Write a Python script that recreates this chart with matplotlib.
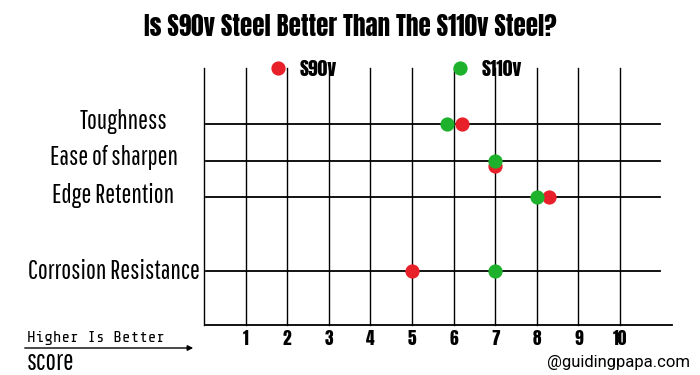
import matplotlib
matplotlib.use('Agg')
import matplotlib.pyplot as plt

# data
features = ['Toughness', 'Ease of sharpen', 'Edge Retention', 'Corrosion Resistance']
rows = [0, 1, 2, 4]
s90v = [6.2, 7.0, 8.3, 5.0]
s110v = [5.83, 7.0, 8.0, 7.0]
ticks = [1, 2, 3, 4, 5, 6, 7, 8, 9, 10]

red = '#e8202a'
green = '#1eb12c'
head = ['Anton', 'DejaVu Sans']
thin = ['Pathway Gothic One', 'DejaVu Sans']

fig = plt.figure(figsize=(7, 3.75), dpi=100)
ax = fig.add_axes([0, 0, 1, 1])
# px -> data: value 0 at x=204, 41.6 px per unit; row 0 at y=124, 36.7 px per unit
ax.set_xlim(-204 / 41.6, (700 - 204) / 41.6)
ax.set_ylim((375 - 124) / 36.7, -124 / 36.7)
ax.axis('off')

# grid
for t in [0] + ticks:
    ax.plot([t, t], [-1.53, 5.48], color='black', lw=1.0, zorder=1)
for r in rows:
    ax.plot([0.05, 10.95], [r, r], color='black', lw=1.3, zorder=1)
ax.plot([0.05, 11.25], [5.48, 5.48], color='black', lw=1.3, zorder=1)

# points
red_off = [0, 0.15, 0, 0]
ax.scatter(s90v, [r + o for r, o in zip(rows, red_off)], s=105, color=red, zorder=3, linewidths=0)
ax.scatter(s110v, rows, s=105, color=green, zorder=4, linewidths=0)

# legend
ax.scatter([1.78], [-1.53], s=105, color=red, zorder=3, linewidths=0)
ax.text(2.31, -1.5, 'S90v', fontsize=14, family=head, va='center', ha='left')
ax.scatter([6.15], [-1.53], s=105, color=green, zorder=3, linewidths=0)
ax.text(6.68, -1.5, 'S110v', fontsize=14, family=head, va='center', ha='left')

# row labels
label_x = [-1.935, -2.175, -2.175, -2.175]
label_dy = [0.14, 0.12, 0.15, 0.22]
for name, r, lx, dy in zip(features, rows, label_x, label_dy):
    ax.text(lx, r + dy, name, fontsize=19, family=thin, ha='center', va='baseline')

# tick labels
for t in ticks:
    ax.text(t, 5.85, str(t), fontsize=12.5, family=head, ha='center', va='center')

fig.text(0.5, 1 - 27 / 375, 'Is S90v Steel Better Than The S110v Steel?', fontsize=18,
         family=head, ha='center', va='center')

fig.text(27 / 700, 1 - 338 / 375, 'Higher Is Better', fontsize=11.5,
         family=['Share Tech Mono', 'DejaVu Sans Mono'], ha='left', va='center')
fig.text(27 / 700, 1 - 362 / 375, 'score', fontsize=20, family=thin, ha='left', va='center')
ax.annotate('', xy=(196 / 700, 1 - 348 / 375), xytext=(22 / 700, 1 - 348 / 375),
            xycoords='figure fraction', textcoords='figure fraction',
            arrowprops=dict(arrowstyle='-|>', color='black', lw=1, mutation_scale=8))
fig.text(690 / 700, 1 - 362 / 375, '@guidingpapa.com', fontsize=12,
         family=['Roboto', 'DejaVu Sans'], ha='right', va='center')

fig.savefig('out.png', dpi=100)
